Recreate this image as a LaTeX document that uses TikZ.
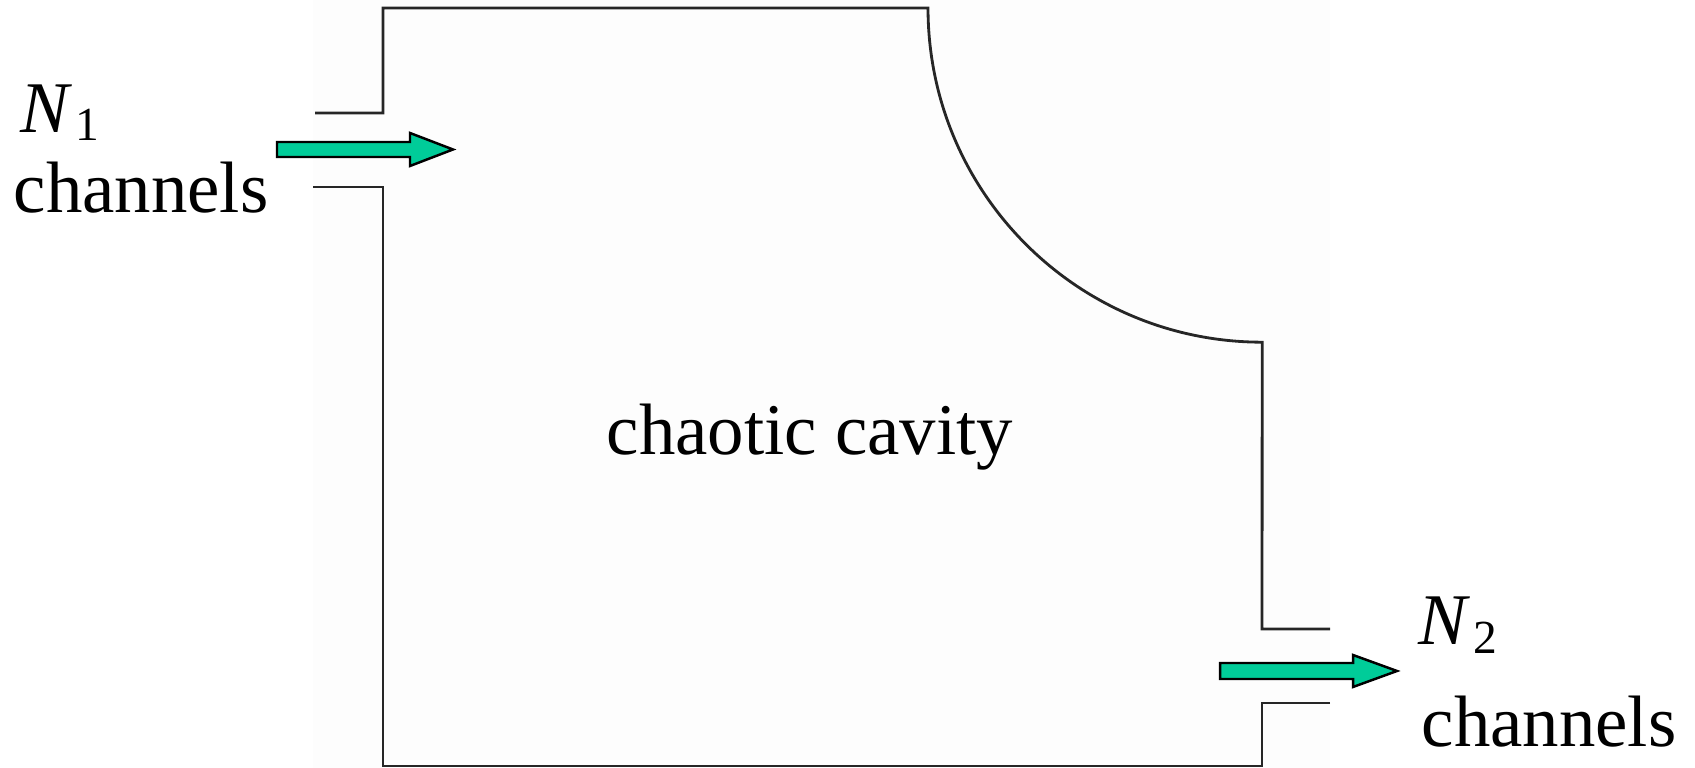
\documentclass[tikz,border=0pt]{standalone}
\usepackage{fontspec}
\setmainfont{Liberation Serif}
\definecolor{flowgreen}{HTML}{00CC99}
\tikzset{
  wall/.style={line width=0.8pt, black!85},
  flowarrow/.style={draw=black, line width=0.7pt, fill=flowgreen, line join=miter},
  lbl/.style={inner sep=0pt, anchor=base west, font=\fontsize{20.7}{24}\selectfont}
}
\newcommand{\chanlabel}[1]{\textit{N}\kern0.8pt\raisebox{-0.11em}{\fontsize{13.5}{15}\selectfont #1}}

\begin{document}
\begin{tikzpicture}[x=0.01cm, y=-0.01cm]
  \useasboundingbox (0,0) rectangle (1695,768);
  \fill[black!0.6] (313,0) rectangle (1330,768);
  % Cavity walls
  \draw[wall] (315,113) -- (383,113) -- (383,8) -- (928,8)
    arc[start angle=180, end angle=270, radius=3.34cm] -- (1262,629) -- (1330,629);
  \draw[wall] (1330,703) -- (1262,703) -- (1262,766) -- (383,766) -- (383,187) -- (313,187);
  % Leads
  \draw[flowarrow] (277,142) -- (410,142) -- (410,133) -- (453,149.5) -- (410,166) -- (410,157) -- (277,157) -- cycle;
  \draw[flowarrow] (1220,663) -- (1353,663) -- (1353,655) -- (1397,671) -- (1353,687) -- (1353,679) -- (1220,679) -- cycle;
  % Labels
  \node[lbl] (n1) at (20,133) {\chanlabel{1}};
  \node[lbl] (c1) at (13,213) {channels};
  \node[lbl, anchor=base] (cav) at (810,455) {chaotic cavity};
  \node[lbl] (n2) at (1418,645) {\chanlabel{2}};
  \node[lbl] (c2) at (1421,747) {channels};
\end{tikzpicture}
\end{document}
